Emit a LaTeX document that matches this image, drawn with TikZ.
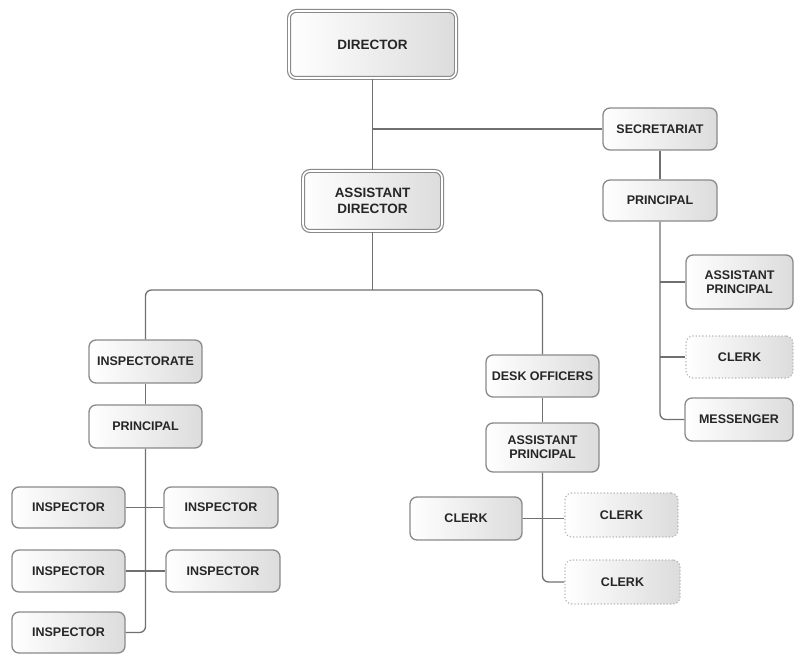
\documentclass[tikz,border=0pt]{standalone}
\usepackage{fontspec}
\setmainfont{Liberation Sans}
\definecolor{boxline}{HTML}{8A8A8A}
\definecolor{conn}{HTML}{707070}
\definecolor{txt}{HTML}{262626}
\definecolor{shadeR}{HTML}{DCDCDC}
\begin{document}
\begin{tikzpicture}[x=1pt,y=-1pt,
  orgbox/.style={draw=boxline, line width=1.3pt, rounded corners=7pt,
    left color=white, right color=shadeR, text=txt,
    font=\fontsize{12.5}{14}\selectfont\bfseries, align=center,
    inner sep=2pt},
  topbox/.style={orgbox, double=white, double distance=1.6pt, line width=1.2pt,
    font=\fontsize{13.5}{16}\selectfont\bfseries},
  dotbox/.style={orgbox, draw=boxline!60, dotted, line width=1.2pt},
  link/.style={draw=conn, line width=1.3pt},
  rlink/.style={link, rounded corners=6pt}]
\useasboundingbox (0,0) rectangle (795,655);

\node[topbox, minimum width=167pt, minimum height=67pt] (dir) at (372.5,44.5) {DIRECTOR};
\node[topbox, minimum width=139pt, minimum height=60pt] (ad) at (372.5,201) {ASSISTANT\\DIRECTOR};

\node[orgbox, minimum width=114pt, minimum height=42pt] (sec) at (660,129) {SECRETARIAT};
\node[orgbox, minimum width=114pt, minimum height=41pt] (p1) at (660,200.5) {PRINCIPAL};
\node[orgbox, minimum width=107pt, minimum height=54pt] (ap1) at (739.5,282) {ASSISTANT\\PRINCIPAL};
\node[dotbox, minimum width=107pt, minimum height=42pt] (cl1) at (739.5,357) {CLERK};
\node[orgbox, minimum width=108pt, minimum height=43pt] (mes) at (739,419.5) {MESSENGER};

\node[orgbox, minimum width=113pt, minimum height=43pt] (insp) at (145.5,361.5) {INSPECTORATE};
\node[orgbox, minimum width=113pt, minimum height=43pt] (p2) at (145.5,426.5) {PRINCIPAL};
\node[orgbox, minimum width=113pt, minimum height=41pt] (i1) at (68.5,507.5) {INSPECTOR};
\node[orgbox, minimum width=114pt, minimum height=41pt] (i2) at (221,507.5) {INSPECTOR};
\node[orgbox, minimum width=113pt, minimum height=42pt] (i3) at (68.5,571) {INSPECTOR};
\node[orgbox, minimum width=114pt, minimum height=42pt] (i4) at (223,571) {INSPECTOR};
\node[orgbox, minimum width=113pt, minimum height=41pt] (i5) at (68.5,632.5) {INSPECTOR};

\node[orgbox, minimum width=113pt, minimum height=42pt] (desk) at (542.5,376) {DESK OFFICERS};
\node[orgbox, minimum width=113pt, minimum height=49pt] (ap2) at (542.5,447.5) {ASSISTANT\\PRINCIPAL};
\node[orgbox, minimum width=112pt, minimum height=43pt] (cl2) at (466,518.5) {CLERK};
\node[dotbox, minimum width=113pt, minimum height=44pt] (cl3) at (621.5,515) {CLERK};
\node[dotbox, minimum width=115pt, minimum height=44pt] (cl4) at (622.5,582) {CLERK};

\coordinate (j2) at (372.5,290);

% top
\draw[link] (dir.south) -- (ad.north);
\draw[link] (dir.south |- sec.west) -- (sec.west);
\draw[link] (sec.south) -- (p1.north);
\draw[rlink] (p1.south) |- (mes.west);
\draw[link] (p1.south |- ap1.west) -- (ap1.west);
\draw[link] (p1.south |- cl1.west) -- (cl1.west);

% middle
\draw[link] (ad.south) -- (j2);
\draw[rlink] (insp.north) |- (j2) -| (desk.north);

% left branch
\draw[link] (insp.south) -- (p2.north);
\draw[rlink] (p2.south) |- (i5.east);
\draw[link] (i1.east) -- (i2.west);
\draw[link] (i3.east) -- (i4.west);

% right branch
\draw[link] (desk.south) -- (ap2.north);
\draw[rlink] (ap2.south) |- (cl4.west);
\draw[link] (cl2.east) -- (cl2.east -| cl3.west);
\end{tikzpicture}
\end{document}
